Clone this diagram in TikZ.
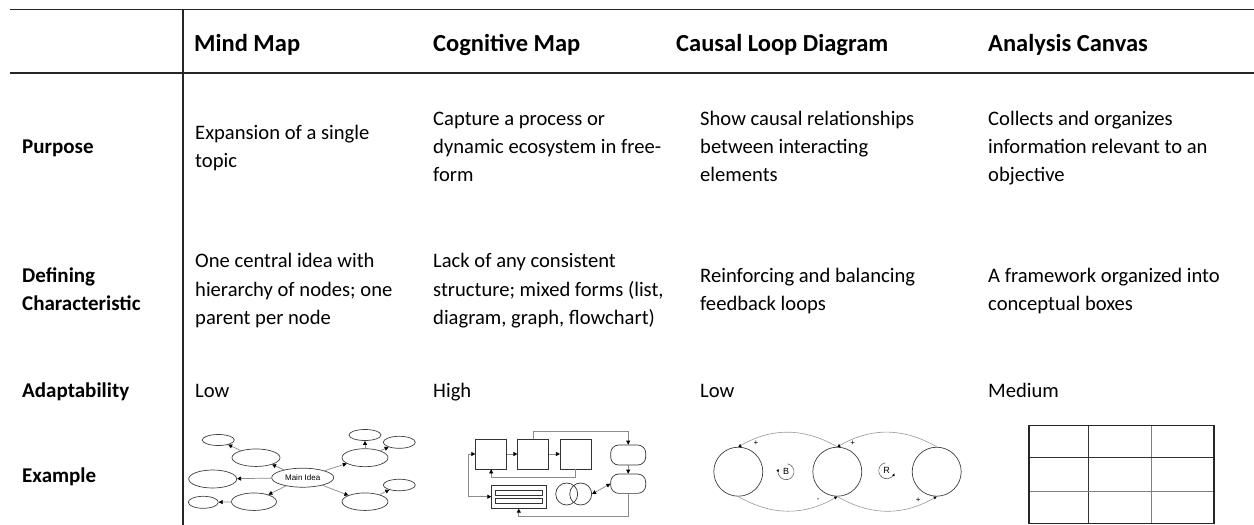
\documentclass[tikz,border=0pt]{standalone}
\usepackage{fontspec}
\setmainfont{Carlito}
\newfontfamily\sansfig{Liberation Sans}
\usetikzlibrary{shapes.geometric,arrows.meta}
\begin{document}
\begin{tikzpicture}[x=1pt,y=1pt,
  rule/.style={draw=black!85, line width=1.3pt},
  hdr/.style={font=\fontsize{24.5}{28}\selectfont\bfseries, anchor=base west, inner sep=0pt},
  txt/.style={font=\fontsize{20.6}{28}\selectfont, anchor=base west, inner sep=0pt},
  rowlab/.style={font=\fontsize{21}{28}\selectfont\bfseries, anchor=base west, inner sep=0pt},
  bub/.style={ellipse, draw=black!75, line width=0.7pt, inner sep=0pt},
  con/.style={draw=black!45, line width=0.7pt, -{Triangle[length=4pt,width=4pt,color=black]}},
  con2/.style={draw=black!45, line width=0.7pt, {Triangle[length=4pt,width=4pt,color=black]}-{Triangle[length=4pt,width=4pt,color=black]}},
  box/.style={rectangle, draw=black!80, line width=0.7pt, inner sep=0pt},
  loopc/.style={circle, draw=black!75, line width=0.7pt, inner sep=0pt, minimum size=49pt},
  arcline/.style={draw=black!40, line width=0.6pt, -{Triangle[length=3pt,width=3pt,color=black]}},
  sgn/.style={font=\sansfig\fontsize{8}{9}\selectfont, inner sep=0pt},
  gridl/.style={draw=black!80, line width=0.7pt}
]
\fill[white] (0,0) rectangle (1254,-525);
\useasboundingbox (0,0) rectangle (1254,-525);

% table rules
\draw[rule] (10,-9.5) -- (1254,-9.5);
\draw[rule] (10,-73) -- (1254,-73);
\draw[rule] (183,-9.5) -- (183,-525);

% headers
\node[hdr] (hmm) at (194,-51) {Mind Map};
\node[hdr] (hcm) at (433,-51) {Cognitive Map};
\node[hdr] (hcl) at (676,-51) {Causal Loop Diagram};
\node[hdr] (hac) at (988,-51) {Analysis Canvas};

% row labels
\node[rowlab] (lp) at (22,-153) {Purpose};
\node[rowlab] (ld1) at (22,-282) {Defining};
\node[rowlab] (ld2) at (22,-310) {Characteristic};
\node[rowlab] (la) at (22,-397) {Adaptability};
\node[rowlab] (le) at (22,-482) {Example};

% purpose
\node[txt] (mp1) at (195,-139) {Expansion of a single};
\node[txt] (mp2) at (195,-167.5) {topic};
\node[txt] (cp1) at (433,-125) {Capture a process or};
\node[txt] (cp2) at (433,-153) {dynamic ecosystem in free-};
\node[txt] (cp3) at (433,-181) {form};
\node[txt] (kp1) at (700,-125) {Show causal relationships};
\node[txt] (kp2) at (700,-153) {between interacting};
\node[txt] (kp3) at (700,-181) {elements};
\node[txt] (ap1) at (988,-125) {Collects and organizes};
\node[txt] (ap2) at (988,-153) {information relevant to an};
\node[txt] (ap3) at (988,-181) {objective};

% defining characteristic
\node[txt] (md1) at (195,-267.5) {One central idea with};
\node[txt] (md2) at (195,-296) {hierarchy of nodes; one};
\node[txt] (md3) at (195,-324.5) {parent per node};
\node[txt] (cd1) at (433,-267.5) {Lack of any consistent};
\node[txt] (cd2) at (433,-296) {structure; mixed forms (list,};
\node[txt] (cd3) at (433,-324.5) {diagram, graph, flowchart)};
\node[txt] (kd1) at (700,-282) {Reinforcing and balancing};
\node[txt] (kd2) at (700,-310) {feedback loops};
\node[txt] (ad1) at (988,-282) {A framework organized into};
\node[txt] (ad2) at (988,-310) {conceptual boxes};

% adaptability
\node[txt] (ma) at (195,-397) {Low};
\node[txt] (ca) at (433,-397) {High};
\node[txt] (ka) at (700,-397) {Low};
\node[txt] (aa) at (988,-397) {Medium};

% ---------- mind map example ----------
\node[bub, minimum width=62pt, minimum height=19pt, font=\sansfig\fontsize{8}{9}\selectfont] (main) at (302.7,-477.7) {Main Idea};
\node[bub, minimum width=48pt, minimum height=17.5pt] (ul) at (256,-457.7) {};
\node[bub, minimum width=32pt, minimum height=11pt] (tl) at (218.3,-440) {};
\node[bub, minimum width=48pt, minimum height=18pt] (lm) at (212.7,-479) {};
\node[bub, minimum width=30pt, minimum height=12pt] (bls) at (203.3,-502.3) {};
\node[bub, minimum width=45pt, minimum height=17.5pt] (blm) at (254,-501.7) {};
\node[bub, minimum width=46pt, minimum height=18pt] (urm) at (365,-457.7) {};
\node[bub, minimum width=32pt, minimum height=11pt] (tr1) at (365,-435) {};
\node[bub, minimum width=32pt, minimum height=12pt] (tr2) at (399.3,-442.3) {};
\node[bub, minimum width=46pt, minimum height=17.5pt] (lrm) at (365,-501.7) {};
\node[bub, minimum width=32pt, minimum height=11.5pt] (rs) at (399.3,-485) {};
\draw[con] (main) -- (ul);
\draw[con] (ul) -- (tl);
\draw[con] (main) -- (lm);
\draw[con] (main) -- (blm);
\draw[con] (blm) -- (bls);
\draw[con] (main) -- (urm);
\draw[con] (urm) -- (tr1);
\draw[con] (urm) -- (tr2);
\draw[con] (main) -- (lrm);
\draw[con] (lrm) -- (rs);

% ---------- cognitive map example ----------
\node[box, minimum width=31pt, minimum height=30pt] (b1) at (491.2,-454) {};
\node[box, minimum width=31pt, minimum height=30pt] (b2) at (533.3,-454) {};
\node[box, minimum width=31pt, minimum height=30pt] (b3) at (575.8,-454) {};
\node[box, rounded corners=8pt, minimum width=35pt, minimum height=20pt] (r1) at (628.2,-455) {};
\node[box, rounded corners=8pt, minimum width=35pt, minimum height=19.3pt] (r2) at (628.2,-483.7) {};
\node[box, minimum width=54.3pt, minimum height=23.3pt] (db) at (518.8,-496.7) {};
\node[box, minimum width=46.6pt, minimum height=5pt] (bar1) at (518.8,-492.5) {};
\node[box, minimum width=46.6pt, minimum height=5pt] (bar2) at (518.8,-500.8) {};
\node[circle, draw=black!80, line width=0.7pt, inner sep=0pt, minimum size=22pt] (o1) at (566.7,-494) {};
\node[circle, draw=black!80, line width=0.7pt, inner sep=0pt, minimum size=22pt] (o2) at (580.7,-494) {};
\coordinate (cmtop) at (628.2,-431.7);
\coordinate (cmmid) at (491.2,-477.3);
\coordinate (cml) at (468.3,-454);
\coordinate (cmbot) at (628.2,-516);
\draw[con] (b1) -- (b2);
\draw[con] (b2) -- (b3);
\draw[con] (b2.north) |- (cmtop) -- (r1.north);
\draw[con] (r1) -- (r2);
\draw[con] (b3.south) |- (cmmid) -- (b1.south);
\draw[con2] (b1.west) -- (cml) |- (db.west);
\draw[con] (r2.south) -- (cmbot) -| (db.south);
\draw[con2] (o2.east) -- (r2.west);

% ---------- causal loop example ----------
\node[loopc] (k1) at (738.3,-471.7) {};
\node[loopc] (k2) at (837.3,-471.7) {};
\node[loopc] (k3) at (936.7,-471.7) {};
\draw[arcline] (k2.north) to[out=150,in=30] (k1.north);
\draw[arcline] (k3.north) to[out=150,in=30] (k2.north);
\draw[arcline] (k1.south) to[out=-30,in=-150] (k2.south);
\draw[arcline] (k2.south) to[out=-30,in=-150] (k3.south);
\node[sgn] (s1) at (756,-443.3) {+};
\node[sgn] (s2) at (852.7,-442.7) {+};
\node[sgn] (s3) at (818.3,-500) {-};
\node[sgn] (s4) at (918.3,-500) {+};
\node[sgn, font=\sansfig\fontsize{9}{10}\selectfont] (lb) at (786,-471.7) {B};
\node[sgn, font=\sansfig\fontsize{9}{10}\selectfont] (lr) at (886.7,-470.7) {R};
\draw[draw=black!60, line width=0.6pt, -{Triangle[length=2.5pt,width=2.5pt,color=black]}] ([shift={(80:8)}]lb.center) arc[start angle=80, end angle=-200, radius=8];
\draw[draw=black!60, line width=0.6pt, -{Triangle[length=2.5pt,width=2.5pt,color=black]}] ([shift={(100:8)}]lr.center) arc[start angle=100, end angle=340, radius=8];

% ---------- analysis canvas example ----------
\draw[gridl] (1088.3,-425.7) -- (1088.3,-523.3);
\draw[gridl, draw=black!50] (1151.7,-425.7) -- (1151.7,-523.3);
\draw[gridl] (1029,-457.3) -- (1214,-457.3);
\draw[gridl, draw=black!50] (1029,-491.7) -- (1214,-491.7);
\draw[draw=black!85, line width=1.2pt] (1029,-425.7) rectangle (1214,-523.3);
\end{tikzpicture}
\end{document}
